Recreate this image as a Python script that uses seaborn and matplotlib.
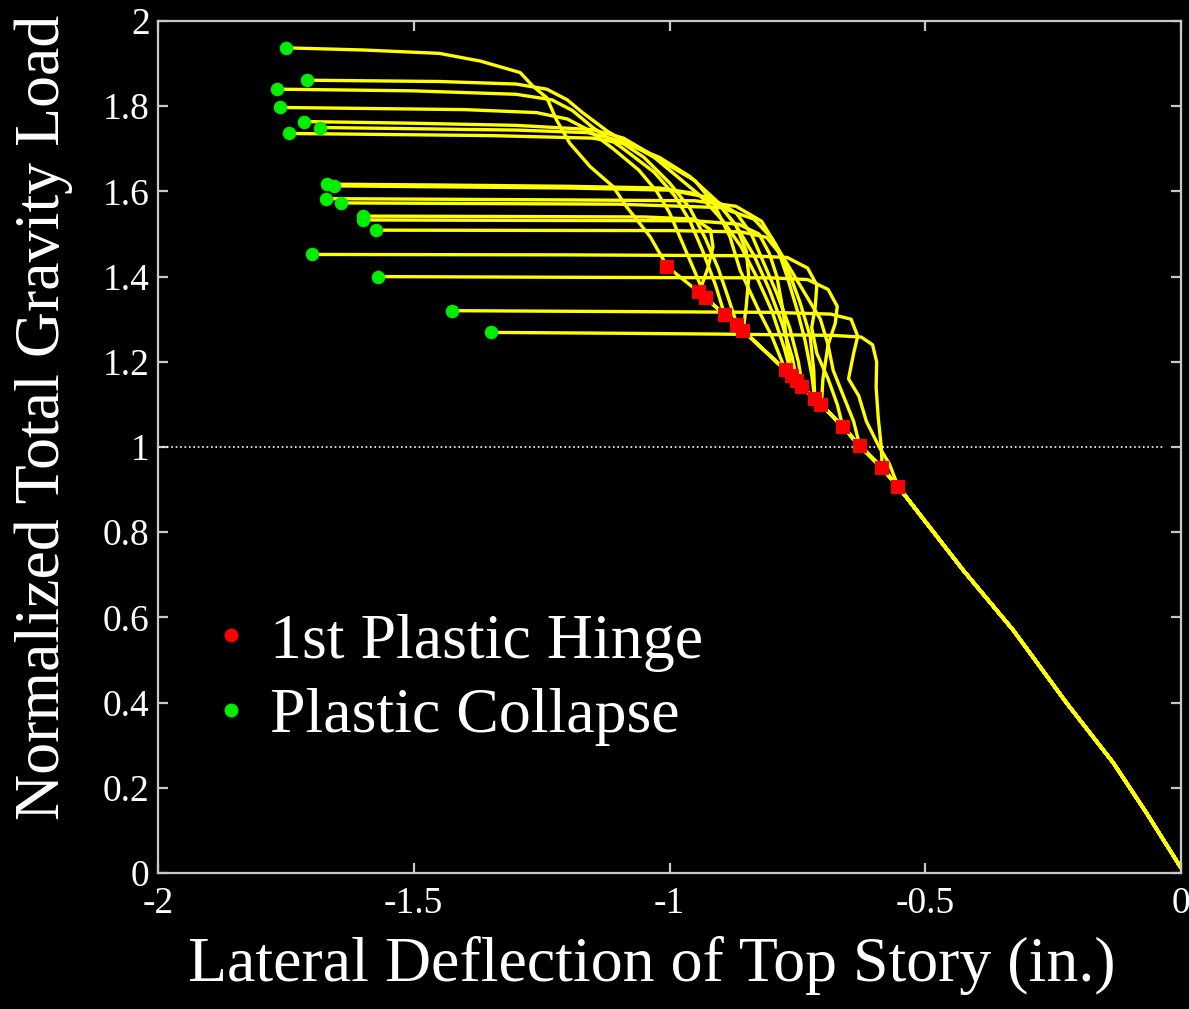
import matplotlib
matplotlib.use("Agg")
import matplotlib.pyplot as plt
from matplotlib.lines import Line2D
import pandas as pd
import seaborn as sns

# ---------------- data ----------------
# common elastic branch from the origin up to the highest first hinge
backbone_x = [0.000, -0.067, -0.132, -0.223, -0.328, -0.426, -0.553, -0.584, -0.628,
              -0.661, -0.703, -0.716, -0.740, -0.751, -0.761, -0.773, -0.856, -0.868,
              -0.892, -0.929, -0.942, -1.004]
backbone_y = [0.012, 0.140, 0.258, 0.398, 0.570, 0.711, 0.907, 0.950, 1.003,
              1.047, 1.099, 1.113, 1.141, 1.155, 1.167, 1.180, 1.273, 1.287,
              1.310, 1.350, 1.363, 1.423]

# first plastic hinge of each curve (red squares)
hinge_x = [-1.004, -0.773, -0.892, -0.929, -0.761, -0.868, -0.751, -0.856, -0.740,
           -0.716, -0.703, -0.942, -0.761, -0.716, -0.661, -0.628, -0.553, -0.584]
hinge_y = [1.423, 1.180, 1.310, 1.350, 1.167, 1.287, 1.155, 1.273, 1.141,
           1.113, 1.099, 1.363, 1.167, 1.113, 1.047, 1.003, 0.907, 0.950]

# plastic collapse of each curve (green dots)
collapse_x = [-1.750, -1.709, -1.767, -1.761, -1.714, -1.684, -1.744, -1.669, -1.656,
              -1.672, -1.642, -1.600, -1.600, -1.573, -1.698, -1.570, -1.426, -1.348]
collapse_y = [1.937, 1.861, 1.840, 1.797, 1.764, 1.750, 1.736, 1.617, 1.613,
              1.583, 1.573, 1.542, 1.533, 1.509, 1.452, 1.400, 1.320, 1.269]

# post-hinge paths (between hinge and collapse point)
path01 = [(-1.038, 1.494), (-1.084, 1.564), (-1.110, 1.611), (-1.155, 1.658), (-1.195, 1.713),
          (-1.221, 1.768), (-1.240, 1.820), (-1.267, 1.847), (-1.292, 1.879), (-1.370, 1.906),
          (-1.450, 1.924), (-1.600, 1.932)]
path02 = [(-0.800, 1.260), (-0.823, 1.314), (-0.862, 1.415), (-0.882, 1.494), (-0.914, 1.572),
          (-0.950, 1.625), (-1.000, 1.660), (-1.060, 1.700), (-1.120, 1.740), (-1.170, 1.785),
          (-1.200, 1.815), (-1.240, 1.840), (-1.300, 1.852), (-1.450, 1.858)]
path03 = [(-0.910, 1.380), (-0.935, 1.460), (-0.960, 1.530), (-0.990, 1.590), (-1.030, 1.645),
          (-1.090, 1.700), (-1.150, 1.750), (-1.190, 1.790), (-1.230, 1.815), (-1.300, 1.828),
          (-1.500, 1.836)]
path04 = [(-0.950, 1.410), (-0.975, 1.480), (-1.000, 1.550), (-1.025, 1.600), (-1.060, 1.650),
          (-1.110, 1.700), (-1.160, 1.745), (-1.200, 1.770), (-1.260, 1.785), (-1.400, 1.792)]
path05 = [(-0.775, 1.230), (-0.800, 1.320), (-0.830, 1.400), (-0.860, 1.470), (-0.895, 1.530),
          (-0.940, 1.590), (-0.990, 1.640), (-1.040, 1.690), (-1.090, 1.725), (-1.150, 1.745),
          (-1.300, 1.755), (-1.500, 1.760)]
path06 = [(-0.885, 1.350), (-0.905, 1.420), (-0.930, 1.490), (-0.960, 1.560), (-1.000, 1.620),
          (-1.050, 1.680), (-1.100, 1.720), (-1.160, 1.738), (-1.300, 1.744)]
path07 = [(-0.760, 1.210), (-0.780, 1.290), (-0.805, 1.370), (-0.835, 1.450), (-0.870, 1.520),
          (-0.910, 1.580), (-0.960, 1.635), (-1.020, 1.680), (-1.080, 1.710), (-1.150, 1.725),
          (-1.350, 1.731)]
path08 = [(-0.850, 1.330), (-0.845, 1.400), (-0.850, 1.460), (-0.870, 1.520), (-0.900, 1.565),
          (-0.950, 1.595), (-1.020, 1.608), (-1.200, 1.612), (-1.450, 1.615)]
path09 = [(-0.748, 1.200), (-0.765, 1.280), (-0.790, 1.360), (-0.815, 1.430), (-0.840, 1.500),
          (-0.870, 1.550), (-0.920, 1.585), (-1.000, 1.603), (-1.200, 1.608)]
path10 = [(-0.722, 1.170), (-0.735, 1.250), (-0.750, 1.320), (-0.770, 1.400), (-0.790, 1.470),
          (-0.820, 1.530), (-0.870, 1.565), (-0.950, 1.578), (-1.200, 1.580)]
path11 = [(-0.700, 1.160), (-0.690, 1.240), (-0.705, 1.300), (-0.735, 1.360), (-0.770, 1.430),
          (-0.800, 1.490), (-0.835, 1.535), (-0.900, 1.562), (-1.100, 1.570)]
path12 = [(-0.925, 1.420), (-0.915, 1.470), (-0.920, 1.510), (-0.950, 1.535), (-1.050, 1.540),
          (-1.300, 1.541)]
path13 = [(-0.770, 1.240), (-0.778, 1.320), (-0.790, 1.400), (-0.805, 1.455), (-0.825, 1.500),
          (-0.865, 1.523), (-0.950, 1.531), (-1.300, 1.532)]
path14 = [(-0.718, 1.180), (-0.725, 1.260), (-0.745, 1.340), (-0.765, 1.405), (-0.785, 1.455),
          (-0.810, 1.492), (-0.860, 1.505), (-1.000, 1.508)]
path15 = [(-0.672, 1.100), (-0.690, 1.160), (-0.712, 1.220), (-0.722, 1.280), (-0.715, 1.330),
          (-0.712, 1.380), (-0.730, 1.420), (-0.770, 1.445), (-0.850, 1.449), (-1.200, 1.451)]
path16 = [(-0.640, 1.060), (-0.660, 1.120), (-0.680, 1.180), (-0.690, 1.240), (-0.676, 1.290),
          (-0.672, 1.330), (-0.690, 1.370), (-0.730, 1.393), (-0.800, 1.397), (-1.100, 1.398)]
path17 = [(-0.570, 0.960), (-0.590, 1.000), (-0.615, 1.060), (-0.630, 1.120), (-0.650, 1.160),
          (-0.640, 1.220), (-0.632, 1.260), (-0.645, 1.300), (-0.685, 1.312), (-0.800, 1.316),
          (-1.100, 1.318)]
path18 = [(-0.586, 1.000), (-0.592, 1.070), (-0.596, 1.140), (-0.595, 1.200), (-0.603, 1.240),
          (-0.625, 1.258), (-0.680, 1.262), (-0.900, 1.265), (-1.100, 1.267)]

paths = [path01, path02, path03, path04, path05, path06, path07, path08, path09,
         path10, path11, path12, path13, path14, path15, path16, path17, path18]

x_ticks = [-2, -1.5, -1, -0.5, 0]
x_ticklabels = ["-2", "-1.5", "-1", "-0.5", "0"]
y_ticks = [0, 0.2, 0.4, 0.6, 0.8, 1.0, 1.2, 1.4, 1.6, 1.8, 2.0]
y_ticklabels = ["0", "0.2", "0.4", "0.6", "0.8", "1", "1.2", "1.4", "1.6", "1.8", "2"]

legend_labels = ["1st Plastic Hinge", "Plastic Collapse"]

# ---------------- build long table ----------------
rows = []
for i, pth in enumerate(paths):
    hx, hy = hinge_x[i], hinge_y[i]
    k = 0
    for bx, by in zip(backbone_x, backbone_y):
        if by < hy - 1e-9:
            rows.append((i, k, bx, by)); k += 1
    rows.append((i, k, hx, hy)); k += 1
    for px, py in pth:
        rows.append((i, k, px, py)); k += 1
    rows.append((i, k, collapse_x[i], collapse_y[i]))
df = pd.DataFrame(rows, columns=["curve", "order", "x", "y"])

# ---------------- style ----------------
sns.set_theme(style="dark", rc={
    "figure.facecolor": "black", "axes.facecolor": "black",
    "axes.edgecolor": "#c8c8c8", "axes.linewidth": 1.6,
    "xtick.color": "#c8c8c8", "ytick.color": "#c8c8c8",
    "xtick.labelcolor": "white", "ytick.labelcolor": "white",
    "xtick.direction": "in", "ytick.direction": "in",
    "xtick.major.size": 7.5, "ytick.major.size": 7.5,
    "xtick.major.width": 1.6, "ytick.major.width": 1.6,
    "xtick.top": True, "ytick.right": True,
    "xtick.bottom": True, "ytick.left": True,
    "axes.grid": False, "text.color": "white", "axes.labelcolor": "white",
})
plt.rcParams["font.family"] = ["Liberation Serif", "DejaVu Serif"]

fig = plt.figure(figsize=(11.89, 10.09), dpi=100)
ax = fig.add_axes([158 / 1189, 1 - 873 / 1009, 1023 / 1189, 852 / 1009])

sns.lineplot(data=df, x="x", y="y", units="curve", estimator=None, sort=False,
             color="#ffff00", linewidth=2.4, ax=ax, legend=False)
sns.scatterplot(x=hinge_x, y=hinge_y, marker="s", color="#ff0000", s=100,
                linewidth=0, ax=ax, zorder=5)
sns.scatterplot(x=collapse_x, y=collapse_y, marker="o", color="#00ee00", s=95,
                linewidth=0, ax=ax, zorder=5)

ax.axhline(1.0, xmin=0, xmax=0.982, color="white", linestyle=":", linewidth=1.2)

ax.set_xlim(-2, 0)
ax.set_ylim(0, 2)
ax.set_xticks(x_ticks)
ax.set_xticklabels(x_ticklabels, fontsize=27)
ax.set_yticks(y_ticks)
ax.set_yticklabels(y_ticklabels, fontsize=27)
ax.tick_params(axis="x", pad=10)
ax.tick_params(axis="y", pad=6)
for side in ["top", "right", "bottom", "left"]:
    ax.spines[side].set_visible(True)
    ax.spines[side].set_color("#c8c8c8")

ax.set_xlabel("Lateral Deflection of Top Story (in.)", fontsize=46, color="white")
ax.set_ylabel("Normalized Total Gravity Load", fontsize=46, color="white")
ax.xaxis.set_label_coords(0.483, -0.074)
ax.yaxis.set_label_coords(-0.083, 0.535)

handles = [Line2D([], [], linestyle="none", marker="o", markersize=9, color="#ff0000"),
           Line2D([], [], linestyle="none", marker="o", markersize=9, color="#00ee00")]
leg = ax.legend(handles, legend_labels, loc="upper left", bbox_to_anchor=(0.028, 0.335),
                frameon=False, fontsize=46, labelcolor="white", handletextpad=0.3,
                handlelength=0.6, labelspacing=0.24, borderaxespad=0)

fig.savefig("out.png", dpi=100, facecolor="black")
